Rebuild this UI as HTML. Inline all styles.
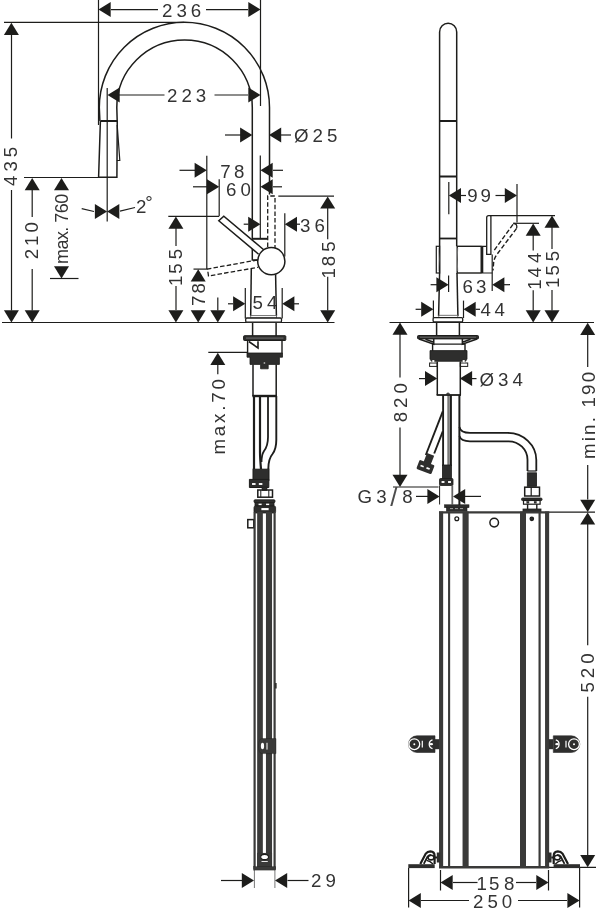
<!DOCTYPE html>
<html lang="en">
<head>
<meta charset="utf-8">
<title>Dimensional drawing</title>
<style>
html,body{margin:0;padding:0;background:#fff;}
body{width:600px;height:913px;overflow:hidden;}
svg{display:block;will-change:transform;}
svg text{font-family:"Liberation Sans",sans-serif;fill:#333;stroke:none;}
</style>
</head>
<body>
<svg width="600" height="913" viewBox="0 0 600 913" fill="none" stroke="#1d1d1b" stroke-linecap="butt" stroke-linejoin="miter">
<rect x="0" y="0" width="600" height="913" fill="#fff" stroke="none"/>
<line x1="98.5" y1="0" x2="98.5" y2="125" stroke-width="1.2" />
<line x1="260.5" y1="0" x2="260.5" y2="106" stroke-width="1.2" />
<polygon points="98.5,9.5 110.7,2.0 110.7,17.0" fill="#1d1d1b" stroke="none"/>
<polygon points="260.5,9.5 248.3,2.0 248.3,17.0" fill="#1d1d1b" stroke="none"/>
<line x1="111" y1="9.6" x2="158" y2="9.6" stroke-width="1.2" />
<line x1="206" y1="9.6" x2="248" y2="9.6" stroke-width="1.2" />
<text x="162" y="17" font-size="18.7" letter-spacing="4.0">236</text>
<line x1="4" y1="22.4" x2="184" y2="22.4" stroke-width="1.2" />
<polygon points="11.4,22.8 3.9000000000000004,35.0 18.9,35.0" fill="#1d1d1b" stroke="none"/>
<polygon points="11.4,322.5 3.9000000000000004,310.3 18.9,310.3" fill="#1d1d1b" stroke="none"/>
<line x1="11.5" y1="34" x2="11.5" y2="138.5" stroke-width="1.2" />
<line x1="11.5" y1="190" x2="11.5" y2="310.5" stroke-width="1.2" />
<text transform="translate(16.6 186) rotate(-90)" font-size="18.7" letter-spacing="4.0">435</text>
<line x1="107.2" y1="88" x2="107.2" y2="221.6" stroke-width="1.2" />
<polygon points="107.5,95 119.7,87.5 119.7,102.5" fill="#1d1d1b" stroke="none"/>
<polygon points="260.5,95 248.3,87.5 248.3,102.5" fill="#1d1d1b" stroke="none"/>
<line x1="119" y1="95" x2="164.5" y2="95" stroke-width="1.2" />
<line x1="214.5" y1="95" x2="248" y2="95" stroke-width="1.2" />
<text x="167" y="102.3" font-size="18.7" letter-spacing="4.0">223</text>
<polygon points="252.3,135 240.10000000000002,127.5 240.10000000000002,142.5" fill="#1d1d1b" stroke="none"/>
<polygon points="269,135 281.2,127.5 281.2,142.5" fill="#1d1d1b" stroke="none"/>
<line x1="225" y1="135" x2="241" y2="135" stroke-width="1.2" />
<line x1="281" y1="135" x2="291" y2="135" stroke-width="1.2" />
<text x="294" y="142" font-size="18.7" letter-spacing="4.0">Ø25</text>
<line x1="24" y1="177.5" x2="117" y2="177.5" stroke-width="1.2" />
<polygon points="32.2,178 24.700000000000003,190.2 39.7,190.2" fill="#1d1d1b" stroke="none"/>
<polygon points="32.2,322.5 24.700000000000003,310.3 39.7,310.3" fill="#1d1d1b" stroke="none"/>
<line x1="32.2" y1="190" x2="32.2" y2="217" stroke-width="1.2" />
<line x1="32.2" y1="269" x2="32.2" y2="310.5" stroke-width="1.2" />
<text transform="translate(38.3 259.3) rotate(-90)" font-size="18.7" letter-spacing="3.0">210</text>
<polygon points="61.5,178 54.0,190.2 69.0,190.2" fill="#1d1d1b" stroke="none"/>
<polygon points="61.5,278.5 54.0,266.3 69.0,266.3" fill="#1d1d1b" stroke="none"/>
<line x1="50" y1="278.5" x2="78.5" y2="278.5" stroke-width="1.2" />
<text transform="translate(67.8 264) rotate(-90)" font-size="18" letter-spacing="-0.55">max. 760</text>
<polygon points="107.1,211.6 94.89999999999999,204.1 94.89999999999999,219.1" fill="#1d1d1b" stroke="none"/>
<polygon points="107.1,211.6 119.3,204.1 119.3,219.1" fill="#1d1d1b" stroke="none"/>
<line x1="81.7" y1="208.7" x2="94" y2="211.5" stroke-width="1.2" />
<line x1="120" y1="211.2" x2="135" y2="207.5" stroke-width="1.2" />
<text x="136" y="213.2" font-size="18.7">2<tspan dx="-1.2" dy="-4">°</tspan></text>
<line x1="206.8" y1="155.8" x2="206.8" y2="269" stroke-width="1.2" />
<line x1="219.2" y1="179.2" x2="219.2" y2="216" stroke-width="1.2" />
<polygon points="206.8,170.3 194.60000000000002,162.8 194.60000000000002,177.8" fill="#1d1d1b" stroke="none"/>
<line x1="179.5" y1="170.3" x2="195" y2="170.3" stroke-width="1.2" />
<polygon points="260.5,170.3 272.7,162.8 272.7,177.8" fill="#1d1d1b" stroke="none"/>
<line x1="273" y1="170.3" x2="283" y2="170.3" stroke-width="1.2" />
<text x="220.2" y="177.5" font-size="18.7" letter-spacing="3.4">78</text>
<polygon points="219.2,186.8 207.0,179.3 207.0,194.3" fill="#1d1d1b" stroke="none"/>
<line x1="193" y1="186.8" x2="207" y2="186.8" stroke-width="1.2" />
<polygon points="260.5,186.8 272.7,179.3 272.7,194.3" fill="#1d1d1b" stroke="none"/>
<line x1="273" y1="186.8" x2="282" y2="186.8" stroke-width="1.2" />
<text x="226" y="195.5" font-size="18.7" letter-spacing="4.0">60</text>
<line x1="260.3" y1="155.6" x2="260.3" y2="238.5" stroke-width="1.2" />
<line x1="284.8" y1="213.3" x2="284.8" y2="256.5" stroke-width="1.2" />
<polygon points="260.4,224.2 248.2,216.7 248.2,231.7" fill="#1d1d1b" stroke="none"/>
<line x1="243.7" y1="224.2" x2="248.5" y2="224.2" stroke-width="1.2" />
<polygon points="284.8,224.2 297.0,216.7 297.0,231.7" fill="#1d1d1b" stroke="none"/>
<line x1="296.5" y1="224.2" x2="300" y2="224.2" stroke-width="1.2" />
<text x="300" y="231.8" font-size="18.7" letter-spacing="4.0">36</text>
<line x1="278.3" y1="196.2" x2="334" y2="196.2" stroke-width="1.2" />
<polygon points="327.7,196.4 320.2,208.6 335.2,208.6" fill="#1d1d1b" stroke="none"/>
<polygon points="327.7,322.5 320.2,310.3 335.2,310.3" fill="#1d1d1b" stroke="none"/>
<line x1="327.7" y1="208" x2="327.7" y2="239.2" stroke-width="1.2" />
<line x1="327.7" y1="276.7" x2="327.7" y2="310.5" stroke-width="1.2" />
<text transform="translate(334.8 278.6) rotate(-90)" dx="0 -2 0" font-size="18.7" letter-spacing="4.0">185</text>
<line x1="168.3" y1="216.3" x2="219.2" y2="216.3" stroke-width="1.2" />
<polygon points="175.9,216.6 168.4,228.79999999999998 183.4,228.79999999999998" fill="#1d1d1b" stroke="none"/>
<polygon points="175.9,322.5 168.4,310.3 183.4,310.3" fill="#1d1d1b" stroke="none"/>
<line x1="176" y1="228" x2="176" y2="246" stroke-width="1.2" />
<line x1="176" y1="286" x2="176" y2="310" stroke-width="1.2" />
<text transform="translate(182.3 286.1) rotate(-90)" dx="0 -2 0" font-size="18.7" letter-spacing="4.0">155</text>
<line x1="193.5" y1="269.1" x2="207.5" y2="269.1" stroke-width="1.2" />
<polygon points="198.2,269.3 190.7,281.5 205.7,281.5" fill="#1d1d1b" stroke="none"/>
<polygon points="198.2,322.5 190.7,310.3 205.7,310.3" fill="#1d1d1b" stroke="none"/>
<text transform="translate(205.4 306) rotate(-90)" font-size="18.7" letter-spacing="2">78</text>
<polygon points="217.8,322.5 210.3,310.3 225.3,310.3" fill="#1d1d1b" stroke="none"/>
<line x1="217.8" y1="297.5" x2="217.8" y2="310.5" stroke-width="1.2" />
<line x1="208.3" y1="352.4" x2="247.5" y2="352.4" stroke-width="1.2" />
<polygon points="217.8,352.7 210.3,364.9 225.3,364.9" fill="#1d1d1b" stroke="none"/>
<line x1="217.8" y1="364.5" x2="217.8" y2="374.2" stroke-width="1.2" />
<text transform="translate(224.6 454.5) rotate(-90)" font-size="18.7" letter-spacing="2.8">max.70</text>
<polygon points="245.3,303.8 233.10000000000002,296.3 233.10000000000002,311.3" fill="#1d1d1b" stroke="none"/>
<line x1="228" y1="303.8" x2="233" y2="303.8" stroke-width="1.2" />
<polygon points="282.2,303.8 294.4,296.3 294.4,311.3" fill="#1d1d1b" stroke="none"/>
<line x1="294" y1="303.8" x2="299" y2="303.8" stroke-width="1.2" />
<text x="252.5" y="308.6" font-size="18.7" letter-spacing="4.0">54</text>
<line x1="2" y1="322.5" x2="334.5" y2="322.5" stroke-width="1.2" />
<line x1="254.4" y1="869" x2="254.4" y2="888" stroke-width="0.8" stroke="#555"/>
<line x1="274.9" y1="869" x2="274.9" y2="888" stroke-width="0.8" stroke="#555"/>
<polygon points="254,880.5 241.8,873.0 241.8,888.0" fill="#1d1d1b" stroke="none"/>
<line x1="221" y1="880.5" x2="242" y2="880.5" stroke-width="1.2" />
<polygon points="275,880.5 287.2,873.0 287.2,888.0" fill="#1d1d1b" stroke="none"/>
<line x1="287.5" y1="880.5" x2="308.5" y2="880.5" stroke-width="1.2" />
<text x="311" y="887" font-size="18.7" letter-spacing="4.0">29</text>
<path d="M99.9,121 L99.3,107.5 A85.1,85.2 0 0 1 269.5,107.5 L269.5,194.5" stroke-width="1.5" fill="none" />
<path d="M117.2,121 L116.8,107.5 A67.75,67.6 0 0 1 252.3,107.5 L252.3,260 L258,260" stroke-width="1.5" fill="none" />
<path d="M100.4,121 L117.25,121" stroke-width="2" fill="none" />
<path d="M100.4,121 L98.6,177.3 L116.9,177.3 L117.25,121" stroke-width="1.5" fill="none" />
<path d="M117.2,125 L119.8,160.5 L116.8,160.5" stroke-width="1.2" fill="none" />
<path d="M252.5,238.8 L267.5,238.8" stroke-width="2" fill="none" />
<path d="M251.3,269 L250.7,316" stroke-width="1.5" fill="none" />
<path d="M275.6,274.5 L276.4,316" stroke-width="1.5" fill="none" />
<line x1="245.3" y1="288" x2="245.3" y2="318.5" stroke-width="1.2" />
<line x1="282.2" y1="288" x2="282.2" y2="318.5" stroke-width="1.2" />
<path d="M267.7,247 L267.7,196 L275,196 L275,248" stroke-width="1.3" fill="none" stroke-dasharray="4.5 2.2"/>
<path d="M264,250 L223.8,216.2 L218.8,220.8 L258.6,254.2" stroke-width="1.5" fill="#fff" />
<path d="M257.5,260 L207.5,269 L208.5,276 L258,267.3" stroke-width="1.3" fill="none" stroke-dasharray="4.5 2.2"/>
<circle cx="271.3" cy="261.2" r="13.6" stroke-width="1.5" fill="#fff"/>
<rect x="250.7" y="315.6" width="25.8" height="2.4" rx="0" stroke-width="0.9" fill="none" stroke="#666"/>
<rect x="245.7" y="318" width="35.8" height="4.2" rx="1.2" stroke-width="1.3" fill="#fff" />
<line x1="252.6" y1="323" x2="252.6" y2="336" stroke-width="1.5" />
<line x1="276.1" y1="323" x2="276.1" y2="336" stroke-width="1.5" />
<rect x="243.6" y="335.7" width="42.2" height="4.8" rx="0.8" stroke-width="1.0" fill="#2e2e2d" />
<line x1="246" y1="338.1" x2="283.5" y2="338.1" stroke-width="0.7" stroke="#8a8a8a"/>
<path d="M247.6,340.5 L247.6,353 M282,340.5 L282,353" stroke-width="1.4" fill="none" />
<path d="M248.8,341.5 L258,348 L258,341.2" stroke-width="1.6" fill="none" />
<path d="M247,353 L282.5,353 L282.5,357.2 L279.4,357.2 L279.4,364.4 L268.2,364.4 L268.2,368.8 L260.6,368.8 L260.6,364.4 L250,364.4 L250,357.2 L247,357.2 Z" stroke-width="0.8" fill="#2e2e2d" />
<circle cx="264.4" cy="363" r="0.9" stroke-width="0.5" fill="#fff"/>
<path d="M253,364.4 L253,396 M276.2,364.4 L276.2,396" stroke-width="1.5" fill="none" />
<line x1="252.4" y1="396" x2="276.8" y2="396" stroke-width="2.4" />
<path d="M254,396 L254,469" stroke-width="2.2" fill="none" />
<path d="M260,396 L260,452 Q260,458 261,469" stroke-width="2.2" fill="none" />
<path d="M268,396 L268,437 Q268,446 264,451 Q261.5,455 261.5,462" stroke-width="1.8" fill="none" />
<path d="M276.3,396 L276.3,440 Q276.3,449 272.5,454 Q268.3,459 268.3,469" stroke-width="1.9" fill="none" />
<rect x="253" y="469.2" width="16" height="11" rx="0" stroke-width="1" fill="#2e2e2d" />
<path d="M249.4,479.4 L268.8,479.4 L268.8,487.5 L249.4,487.5 Z" stroke-width="1" fill="#2e2e2d" />
<rect x="252" y="483" width="3.6" height="2" rx="0" stroke-width="0.1" fill="#fff" />
<rect x="258.8" y="483" width="3.6" height="2" rx="0" stroke-width="0.1" fill="#fff" />
<rect x="262" y="487" width="5" height="3.5" rx="0" stroke-width="0.6" fill="#2e2e2d" />
<rect x="257.8" y="490" width="14.7" height="7.2" rx="0" stroke-width="1.5" fill="none" />
<line x1="260.8" y1="490" x2="260.8" y2="497" stroke-width="1.0" />
<line x1="268.8" y1="490" x2="268.8" y2="497" stroke-width="1.0" />
<rect x="254" y="499.8" width="21" height="2.8" rx="1" stroke-width="0.8" fill="#2e2e2d" />
<rect x="255" y="502.5" width="19" height="3.5" rx="0" stroke-width="0.8" fill="#2e2e2d" />
<rect x="258.5" y="503.6" width="3.2" height="1.6" rx="0" stroke-width="0.1" fill="#fff" />
<rect x="266" y="503.6" width="3.2" height="1.6" rx="0" stroke-width="0.1" fill="#fff" />
<rect x="254" y="506" width="21.6" height="7" rx="1.5" stroke-width="0.8" fill="#2e2e2d" />
<rect x="261.3" y="508" width="7.4" height="2.2" rx="0" stroke-width="0.1" fill="#fff" />
<rect x="247.8" y="519.6" width="6" height="8.2" rx="0" stroke-width="1.5" fill="none" />
<line x1="254.6" y1="512" x2="254.6" y2="869" stroke-width="2.2" stroke="#3a3a39"/>
<line x1="260" y1="512" x2="260" y2="869" stroke-width="5.7" stroke="#3a3a39"/>
<line x1="269" y1="512" x2="269" y2="869" stroke-width="6.1" stroke="#3a3a39"/>
<line x1="274.6" y1="512" x2="274.6" y2="869" stroke-width="2.2" stroke="#3a3a39"/>
<rect x="257.2" y="853" width="14.8" height="14" rx="0" stroke-width="0.1" fill="#3a3a39" />
<rect x="253.5" y="866.6" width="22.2" height="3.5" rx="0" stroke-width="0.3" fill="#3a3a39" />
<ellipse cx="264.6" cy="857" rx="3.9" ry="2.6" fill="#fff" stroke-width="1.1"/>
<line x1="261.5" y1="861.5" x2="267.8" y2="861.5" stroke-width="0.9" stroke="#fff"/>
<path d="M276,738.6 L261.5,738.6 Q258.5,739.5 258.5,746 Q258.5,752.8 261.5,753.6 L276,753.6 Z" stroke-width="0.4" fill="#3a3a39" />
<ellipse cx="262.5" cy="746" rx="1.6" ry="3.2" fill="#fff" stroke="none"/>
<line x1="267" y1="742.8" x2="267" y2="749.6" stroke-width="1.0" stroke="#fff"/>
<line x1="275.9" y1="683" x2="275.9" y2="688.5" stroke-width="1.4" />
<path d="M438.6,316 L439.6,273 L439.6,31.9 A8.55,8.6 0 0 1 456.7,31.9 L456.7,246.3" stroke-width="1.5" fill="none" />
<line x1="439.6" y1="121" x2="456.7" y2="121" stroke-width="2" />
<line x1="439.6" y1="176.5" x2="456.7" y2="176.5" stroke-width="2" />
<line x1="448.8" y1="182" x2="448.8" y2="214.3" stroke-width="1.2" />
<line x1="517" y1="184" x2="517" y2="222.5" stroke-width="1.2" />
<polygon points="448.8,195.5 461.0,188.0 461.0,203.0" fill="#1d1d1b" stroke="none"/>
<polygon points="517,195.5 504.8,188.0 504.8,203.0" fill="#1d1d1b" stroke="none"/>
<line x1="461" y1="195.5" x2="466" y2="195.5" stroke-width="1.2" />
<line x1="495.5" y1="195.5" x2="505" y2="195.5" stroke-width="1.2" />
<text x="467.2" y="202.4" font-size="18.7" letter-spacing="3">99</text>
<path d="M486.7,254.3 L486.7,217.6 Q486.7,215.6 488.7,215.6 L490.9,215.6 L490.9,254.3 Z" stroke-width="1.3" fill="none" />
<line x1="490" y1="215.6" x2="555" y2="215.6" stroke-width="1.2" />
<polygon points="552,215.6 544.5,227.79999999999998 559.5,227.79999999999998" fill="#1d1d1b" stroke="none"/>
<polygon points="552,322.5 544.5,310.3 559.5,310.3" fill="#1d1d1b" stroke="none"/>
<line x1="552" y1="227" x2="552" y2="249" stroke-width="1.2" />
<line x1="552" y1="290" x2="552" y2="310.5" stroke-width="1.2" />
<text transform="translate(559 288) rotate(-90)" dx="0 -2 0" font-size="18.7" letter-spacing="4.0">155</text>
<line x1="513.5" y1="223.3" x2="539" y2="223.3" stroke-width="1.2" />
<polygon points="533.2,223.6 525.7,235.79999999999998 540.7,235.79999999999998" fill="#1d1d1b" stroke="none"/>
<polygon points="533.2,322.5 525.7,310.3 540.7,310.3" fill="#1d1d1b" stroke="none"/>
<line x1="533.2" y1="235" x2="533.2" y2="250.5" stroke-width="1.2" />
<line x1="533.2" y1="290.3" x2="533.2" y2="310.5" stroke-width="1.2" />
<text transform="translate(541.2 289.8) rotate(-90)" dx="0 -2 0" font-size="18.7" letter-spacing="4.0">144</text>
<path d="M513,224.4 L493,252" stroke-width="1.4" fill="none" stroke-dasharray="4.6 2.2"/>
<path d="M516.6,228.4 L496.2,255.4 Q493.9,258.8 493.6,263 L493,270.5" stroke-width="1.4" fill="none" stroke-dasharray="4.6 2.2"/>
<path d="M513.2,223.5 Q517.6,223.3 516.7,228.2" stroke-width="1.3" fill="none" />
<line x1="439.6" y1="238.5" x2="456.7" y2="238.5" stroke-width="1.8" />
<path d="M457,273 L457.9,316" stroke-width="1.5" fill="none" />
<rect x="436.3" y="246.3" width="3.3" height="26.7" rx="0" stroke-width="1.2" fill="none" />
<rect x="457.2" y="246.3" width="24" height="26.7" rx="0" stroke-width="1.4" fill="none" />
<line x1="482.2" y1="246.3" x2="482.2" y2="273" stroke-width="2.2" />
<path d="M482,246.3 L486.7,246.3 M482,273 L492.3,273" stroke-width="1.2" fill="none" />
<path d="M438.3,248 Q439.6,259 438.3,271" stroke-width="0.6" fill="none" stroke="#999"/>
<path d="M457.8,248 Q456.3,259 457.8,271" stroke-width="0.6" fill="none" stroke="#999"/>
<line x1="448.6" y1="275.6" x2="448.6" y2="292" stroke-width="1.2" />
<line x1="492.2" y1="254.5" x2="492.2" y2="291" stroke-width="1.2" />
<polygon points="448.6,284.7 436.40000000000003,277.2 436.40000000000003,292.2" fill="#1d1d1b" stroke="none"/>
<line x1="430.6" y1="284.7" x2="437" y2="284.7" stroke-width="1.2" />
<polygon points="492.2,284.7 504.4,277.2 504.4,292.2" fill="#1d1d1b" stroke="none"/>
<line x1="504" y1="284.7" x2="510" y2="284.7" stroke-width="1.2" />
<text x="462.5" y="292.5" font-size="18.7" letter-spacing="3">63</text>
<line x1="433.4" y1="300.6" x2="433.4" y2="318" stroke-width="1.2" />
<line x1="463.5" y1="300.6" x2="463.5" y2="318" stroke-width="1.2" />
<polygon points="433.4,309.3 421.2,301.8 421.2,316.8" fill="#1d1d1b" stroke="none"/>
<line x1="415.6" y1="309.3" x2="421.5" y2="309.3" stroke-width="1.2" />
<polygon points="463.5,309.3 475.7,301.8 475.7,316.8" fill="#1d1d1b" stroke="none"/>
<line x1="475.5" y1="309.3" x2="480" y2="309.3" stroke-width="1.2" />
<text x="480.5" y="316" font-size="18.7" letter-spacing="3.5">44</text>
<rect x="438.8" y="315.3" width="19" height="2.4" rx="0" stroke-width="0.9" fill="none" stroke="#666"/>
<rect x="433.1" y="317.6" width="29.6" height="4.3" rx="1.2" stroke-width="1.3" fill="#fff" />
<line x1="389.5" y1="322.5" x2="594" y2="322.5" stroke-width="1.2" />
<polygon points="400,322.5 392.5,334.7 407.5,334.7" fill="#1d1d1b" stroke="none"/>
<polygon points="400,487 392.5,474.8 407.5,474.8" fill="#1d1d1b" stroke="none"/>
<line x1="400" y1="334" x2="400" y2="377.5" stroke-width="1.2" />
<line x1="400" y1="427.5" x2="400" y2="475" stroke-width="1.2" />
<line x1="393" y1="487" x2="438.5" y2="487" stroke-width="1.2" />
<text transform="translate(406.6 422.3) rotate(-90)" font-size="18.7" letter-spacing="4.0">820</text>
<polygon points="587.7,322.8 580.2,335.0 595.2,335.0" fill="#1d1d1b" stroke="none"/>
<polygon points="587.7,512 580.2,499.8 595.2,499.8" fill="#1d1d1b" stroke="none"/>
<line x1="587.7" y1="334" x2="587.7" y2="367" stroke-width="1.2" />
<line x1="587.7" y1="465" x2="587.7" y2="499.5" stroke-width="1.2" />
<text transform="translate(594.5 459) rotate(-90)" font-size="18.7" letter-spacing="2.2">min. 190</text>
<polygon points="587.7,512.4 580.2,524.6 595.2,524.6" fill="#1d1d1b" stroke="none"/>
<polygon points="587.7,867.3 580.2,855.0999999999999 595.2,855.0999999999999" fill="#1d1d1b" stroke="none"/>
<line x1="587.7" y1="523" x2="587.7" y2="645.2" stroke-width="1.2" />
<line x1="587.7" y1="696.7" x2="587.7" y2="855" stroke-width="1.2" />
<text transform="translate(593.8 692.6) rotate(-90)" font-size="18.7" letter-spacing="4.0">520</text>
<line x1="549" y1="512.2" x2="595" y2="512.2" stroke-width="1.2" />
<line x1="549" y1="867.3" x2="596" y2="867.3" stroke-width="1.2" />
<polygon points="437.2,378.6 425.0,371.1 425.0,386.1" fill="#1d1d1b" stroke="none"/>
<line x1="419" y1="378.6" x2="425" y2="378.6" stroke-width="1.2" />
<polygon points="459.9,378.6 472.09999999999997,371.1 472.09999999999997,386.1" fill="#1d1d1b" stroke="none"/>
<line x1="472" y1="378.6" x2="476.5" y2="378.6" stroke-width="1.2" />
<text x="479.5" y="386" font-size="18.7" letter-spacing="4.0">Ø34</text>
<polygon points="439.6,496.4 427.40000000000003,488.9 427.40000000000003,503.9" fill="#1d1d1b" stroke="none"/>
<line x1="416" y1="496.4" x2="428" y2="496.4" stroke-width="1.2" />
<polygon points="453,496.4 465.2,488.9 465.2,503.9" fill="#1d1d1b" stroke="none"/>
<line x1="465" y1="496.4" x2="481" y2="496.4" stroke-width="1.2" />
<text x="357.5" y="502.8" font-size="18.7" letter-spacing="4.3">G3<tspan font-size="26" dy="2.7" dx="-0.8" letter-spacing="4.8" fill="#4d4d4d">/</tspan><tspan dy="-2.7">8</tspan></text>
<line x1="436.6" y1="323" x2="436.6" y2="335.6" stroke-width="1.5" />
<line x1="459.4" y1="323" x2="459.4" y2="335.6" stroke-width="1.5" />
<rect x="417.5" y="335.5" width="61" height="3.4" rx="1" stroke-width="1.0" fill="#2e2e2d" />
<line x1="420" y1="337.2" x2="476" y2="337.2" stroke-width="0.6" stroke="#8a8a8a"/>
<path d="M419,339 L433.7,344.2 L433.7,339 M425.5,339.3 L433.7,342.2" stroke-width="1.6" fill="none" />
<path d="M477,339 L462.4,344.2 L462.4,339 M470.5,339.3 L462.4,342.2" stroke-width="1.6" fill="none" />
<path d="M432.6,343.8 L432.6,351 M465,343.8 L465,351" stroke-width="1.4" fill="none" />
<line x1="432.6" y1="344.2" x2="465" y2="344.2" stroke-width="1.2" />
<path d="M430,350.6 L467,350.6 L467,359 L465.5,361.3 L431.5,361.3 L430,359 Z" stroke-width="0.8" fill="#2e2e2d" />
<rect x="429.6" y="363" width="7.6" height="3.4" rx="0" stroke-width="1.0" fill="none" />
<rect x="460.3" y="363" width="7.4" height="3.4" rx="0" stroke-width="1.0" fill="none" />
<rect x="432.2" y="360" width="2.2" height="2.4" rx="0" stroke-width="0.1" fill="#fff" />
<rect x="462.6" y="360" width="2.2" height="2.4" rx="0" stroke-width="0.1" fill="#fff" />
<path d="M437.3,361.5 L437.3,395 M460.3,361.5 L460.3,395" stroke-width="1.5" fill="none" />
<line x1="436.6" y1="395" x2="461" y2="395" stroke-width="1.8" />
<path d="M446.5,394.5 Q448,391.5 449.6,394.5" stroke-width="1.2" fill="none" />
<line x1="443.1" y1="395" x2="443.1" y2="466" stroke-width="1.9" />
<line x1="448.1" y1="395" x2="448.1" y2="466" stroke-width="1.0" />
<line x1="450.7" y1="395" x2="450.7" y2="466" stroke-width="2.4" />
<line x1="459.4" y1="395" x2="459.4" y2="505" stroke-width="2.0" />
<path d="M442.8,411.3 L425.8,455" stroke-width="1.9" fill="none" />
<path d="M442.8,431.3 L434.2,453.5" stroke-width="1.9" fill="none" />
<g transform="translate(427.2 462.6) rotate(21)" stroke="none"><rect x="-3.6" y="-9" width="7.6" height="10" fill="#2e2e2d"/><rect x="-8" y="0" width="16" height="9.6" rx="1.2" fill="#2e2e2d"/><rect x="-5.2" y="4.2" width="3.4" height="1.8" fill="#fff"/><rect x="1.2" y="4.2" width="3.4" height="1.8" fill="#fff"/></g>
<path d="M459.4,427 Q460.5,432.9 470,432.9 L507.5,432.9 A28.7,27 0 0 1 536.3,460 L536.3,471" stroke-width="1.8" fill="none" />
<path d="M459.4,436 Q461,441.3 470,441.3 L508.7,441.3 A18.8,18.5 0 0 1 527.5,459.8 L527.5,471" stroke-width="1.8" fill="none" />
<rect x="442.4" y="465" width="9" height="14" rx="0" stroke-width="0.8" fill="#2e2e2d" />
<rect x="439.5" y="478.5" width="13.5" height="7" rx="1" stroke-width="0.8" fill="#2e2e2d" />
<rect x="441.5" y="481" width="3" height="2" rx="0" stroke-width="0.1" fill="#fff" />
<rect x="448" y="481" width="3" height="2" rx="0" stroke-width="0.1" fill="#fff" />
<line x1="439.6" y1="485.5" x2="439.6" y2="504.5" stroke-width="1.0" />
<line x1="452.3" y1="485.5" x2="452.3" y2="504.5" stroke-width="1.8" stroke="#666"/>
<line x1="527.3" y1="471" x2="536.6" y2="471" stroke-width="1.2" />
<rect x="527.3" y="472.8" width="9.3" height="13.5" rx="0" stroke-width="0.8" fill="#2e2e2d" />
<rect x="524.7" y="487.2" width="14.8" height="8.8" rx="0" stroke-width="1.5" fill="none" />
<line x1="531.2" y1="487.2" x2="531.2" y2="496" stroke-width="1.2" />
<rect x="521.5" y="498" width="20.6" height="2.6" rx="1.2" stroke-width="0.8" fill="#2e2e2d" />
<rect x="523.5" y="500.4" width="16.6" height="3.8" rx="0" stroke-width="1.2" fill="none" />
<rect x="526.5" y="501.2" width="2.6" height="2.2" rx="0" stroke-width="0.1" fill="#2e2e2d" />
<rect x="534" y="501.2" width="2.6" height="2.2" rx="0" stroke-width="0.1" fill="#2e2e2d" />
<path d="M527.6,504.2 L527.6,509 M536.8,504.2 L536.8,509" stroke-width="1.4" fill="none" />
<rect x="523" y="509" width="18" height="3" rx="0" stroke-width="0.8" fill="#2e2e2d" />
<rect x="444.5" y="504.8" width="24.5" height="2.8" rx="0" stroke-width="0.6" fill="#2e2e2d" />
<rect x="446.5" y="507.5" width="20.5" height="3.8" rx="0" stroke-width="0.6" fill="#2e2e2d" />
<line x1="450" y1="508.6" x2="464" y2="508.6" stroke-width="0.8" stroke="#bbb" stroke-dasharray="3 2"/>
<line x1="439" y1="512.4" x2="549.2" y2="512.4" stroke-width="2.4" stroke="#3a3a39"/>
<line x1="441.1" y1="511.5" x2="441.1" y2="868" stroke-width="4.1" stroke="#3a3a39"/>
<line x1="449.1" y1="512" x2="449.1" y2="868" stroke-width="2.1" stroke="#3a3a39"/>
<line x1="465.6" y1="511.5" x2="465.6" y2="868" stroke-width="6.1" stroke="#3a3a39"/>
<line x1="523" y1="511.5" x2="523" y2="868" stroke-width="6.0" stroke="#3a3a39"/>
<line x1="539.6" y1="512" x2="539.6" y2="868" stroke-width="2.2" stroke="#3a3a39"/>
<line x1="547.1" y1="511.5" x2="547.1" y2="868" stroke-width="4.1" stroke="#3a3a39"/>
<line x1="439" y1="867.2" x2="549.2" y2="867.2" stroke-width="2.4" stroke="#3a3a39"/>
<circle cx="456.8" cy="518.8" r="1.9" stroke-width="1.3" fill="none"/>
<circle cx="494.2" cy="522.6" r="4.3" stroke-width="1.5" fill="none"/>
<circle cx="531.8" cy="518.8" r="1.7" stroke-width="1.3" fill="#2e2e2d"/>
<g><path d="M435,735.8 L417,735.8 A8.5,8.35 0 0 0 417,752.5 L435,752.5 Z" fill="#2e2e2d" stroke="#2e2e2d" stroke-width="0.6"/><circle cx="414.3" cy="744.2" r="5.4" fill="none" stroke="#fff" stroke-width="1.3"/><circle cx="414.3" cy="744.2" r="1" fill="#fff" stroke="none"/><path d="M422.3,740.8 L422.3,747.6" stroke="#fff" stroke-width="1.2"/><path d="M432.5,739.8 A4.6,4.6 0 0 0 432.5,748.6" stroke="#fff" stroke-width="1.3" fill="none"/><ellipse cx="431.3" cy="744.2" rx="1.8" ry="1.1" fill="#fff" stroke="none"/><rect x="435" y="739.2" width="4.5" height="10" fill="#2e2e2d" stroke="none"/></g>
<g transform="translate(988.3 0) scale(-1 1)"><path d="M435,735.8 L417,735.8 A8.5,8.35 0 0 0 417,752.5 L435,752.5 Z" fill="#2e2e2d" stroke="#2e2e2d" stroke-width="0.6"/><circle cx="414.3" cy="744.2" r="5.4" fill="none" stroke="#fff" stroke-width="1.3"/><circle cx="414.3" cy="744.2" r="1" fill="#fff" stroke="none"/><path d="M422.3,740.8 L422.3,747.6" stroke="#fff" stroke-width="1.2"/><path d="M432.5,739.8 A4.6,4.6 0 0 0 432.5,748.6" stroke="#fff" stroke-width="1.3" fill="none"/><ellipse cx="431.3" cy="744.2" rx="1.8" ry="1.1" fill="#fff" stroke="none"/><rect x="435" y="739.2" width="4.5" height="10" fill="#2e2e2d" stroke="none"/></g>
<g><rect x="408.3" y="864.2" width="26.4" height="3.9" fill="#2e2e2d" stroke="none"/><path d="M420.3,864 L425.8,853.6 Q427.4,851.4 430.4,851.4 Q434.6,851.6 434.6,856 L434.6,864" stroke-width="2.2"/><path d="M423.8,863.8 L427.6,856.6 Q429,855 431.2,855" stroke-width="1.8"/><ellipse cx="431" cy="857.6" rx="3" ry="2.3" stroke-width="1.6"/><path d="M426.6,860.4 L430,861.6 L433,864" stroke-width="1.4"/><rect x="436.8" y="852.5" width="3.4" height="10" fill="#2e2e2d" stroke="none"/><path d="M434,857.5 L437,857.5" stroke-width="2"/></g>
<g transform="translate(988.3 0) scale(-1 1)"><rect x="408.3" y="864.2" width="26.4" height="3.9" fill="#2e2e2d" stroke="none"/><path d="M420.3,864 L425.8,853.6 Q427.4,851.4 430.4,851.4 Q434.6,851.6 434.6,856 L434.6,864" stroke-width="2.2"/><path d="M423.8,863.8 L427.6,856.6 Q429,855 431.2,855" stroke-width="1.8"/><ellipse cx="431" cy="857.6" rx="3" ry="2.3" stroke-width="1.6"/><path d="M426.6,860.4 L430,861.6 L433,864" stroke-width="1.4"/><rect x="436.8" y="852.5" width="3.4" height="10" fill="#2e2e2d" stroke="none"/><path d="M434,857.5 L437,857.5" stroke-width="2"/></g>
<line x1="440.5" y1="870" x2="440.5" y2="890.5" stroke-width="1.2" />
<line x1="548.5" y1="870" x2="548.5" y2="890.5" stroke-width="1.2" />
<polygon points="440.5,882.5 452.7,875.0 452.7,890.0" fill="#1d1d1b" stroke="none"/>
<polygon points="548.5,882.5 536.3,875.0 536.3,890.0" fill="#1d1d1b" stroke="none"/>
<line x1="453" y1="882.5" x2="477.5" y2="882.5" stroke-width="1.2" />
<line x1="516" y1="882.5" x2="536" y2="882.5" stroke-width="1.2" />
<text x="476.6" y="889.5" dx="0 -2 0.5" font-size="18.7" letter-spacing="4.0">158</text>
<line x1="408.6" y1="868" x2="408.6" y2="907.5" stroke-width="1.2" />
<line x1="579.6" y1="868" x2="579.6" y2="907.5" stroke-width="1.2" />
<polygon points="408.6,900.5 420.8,893.0 420.8,908.0" fill="#1d1d1b" stroke="none"/>
<polygon points="579.6,900.5 567.4,893.0 567.4,908.0" fill="#1d1d1b" stroke="none"/>
<line x1="421" y1="900.5" x2="469" y2="900.5" stroke-width="1.2" />
<line x1="518" y1="900.5" x2="567" y2="900.5" stroke-width="1.2" />
<text x="473" y="908" font-size="18.7" letter-spacing="4.0">250</text>
</svg>
</body>
</html>
